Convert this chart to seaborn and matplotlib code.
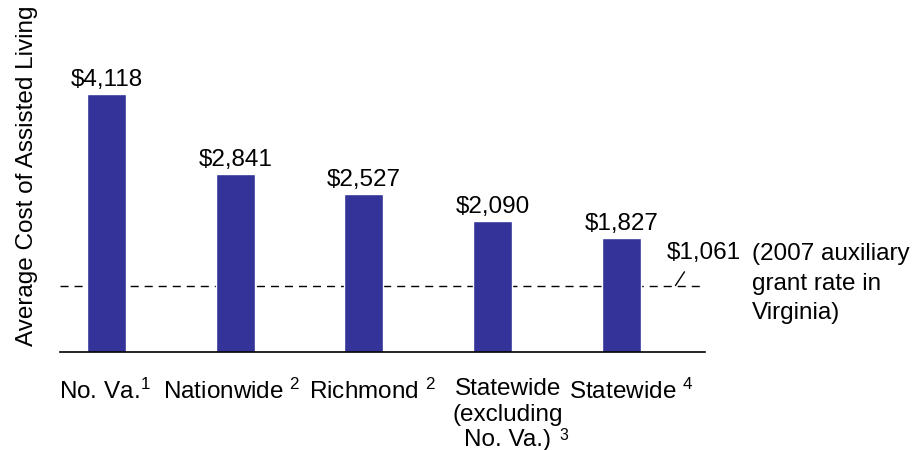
import numpy as np
import matplotlib
matplotlib.use('Agg')
import matplotlib.pyplot as plt
import matplotlib.transforms as mtransforms
import seaborn as sns

sns.set_theme(style='white')
plt.rcParams['font.family'] = ['Liberation Sans', 'DejaVu Sans']
plt.rcParams['mathtext.fontset'] = 'custom'
plt.rcParams['mathtext.rm'] = 'Liberation Sans'
plt.rcParams['mathtext.default'] = 'rm'
plt.rcParams['text.color'] = 'black'
plt.rcParams['axes.labelcolor'] = 'black'
plt.rcParams['xtick.color'] = 'black'

# data
places = [r'No. Va.$^1$', r'Nationwide $^2$', r'Richmond $^2$',
          'Statewide\n(excluding\nNo. Va.)', r'Statewide $^4$']
cost = [4118, 2841, 2527, 2090, 1827]
cost_labels = ['$4,118', '$2,841', '$2,527', '$2,090', '$1,827']
grant_rate = 1061
grant_label = '$1,061'
grant_note = '(2007 auxiliary\ngrant rate in\nVirginia)'

fs = 17.5

fig = plt.figure(figsize=(9.19, 4.5), dpi=100)
ax = fig.add_axes([0.0653, 0.2178, 0.7018, 0.7822])

ax.axhline(grant_rate, color='black', lw=1, ls=(0, (5.8, 4.3)), zorder=0)
sns.barplot(x=places, y=cost, color='#333399', saturation=1, width=0.303, ax=ax, zorder=2)
ax.bar_label(ax.containers[0], labels=[s.replace('$', r'\$') for s in cost_labels],
             padding=2, fontsize=fs)

ax.set_xlim(-0.361, 4.649)
ax.set_ylim(0, 5618)
ax.set_yticks([])
ax.set_ylabel('Average Cost of Assisted Living', fontsize=fs, labelpad=16)
ax.tick_params(axis='x', length=0, pad=19, labelsize=fs)

# category labels are not quite centred under the bars in the original
shifts = [-2, -3, 8, 15, 10]
for lab, dx in zip(ax.get_xticklabels(), shifts):
    lab.set_transform(lab.get_transform() + mtransforms.ScaledTranslation(dx / 100, 0, fig.dpi_scale_trans))

# footnote mark on the three-line label
ax.annotate('3', xy=(3, 0), xycoords=ax.get_xaxis_transform(),
            xytext=(51, -60), textcoords='offset points',
            ha='center', va='center', fontsize=fs * 0.65, annotation_clip=False)

for side in ['left', 'top', 'right']:
    ax.spines[side].set_visible(False)
ax.spines['bottom'].set_color('black')
ax.spines['bottom'].set_linewidth(1.2)

# label for the grant-rate line
ax.text(4.64, 1580, grant_label.replace('$', r'\$'), ha='center', va='center', fontsize=fs, clip_on=False)
ax.annotate('', xy=(4.42, grant_rate), xytext=(4.49, 1280),
            arrowprops=dict(arrowstyle='-', color='black', lw=1, shrinkA=0, shrinkB=0),
            annotation_clip=False)
ax.text(5.013, 1740, grant_note, ha='left', va='top', fontsize=fs,
        linespacing=1.45, clip_on=False)

fig.savefig('out.png', dpi=100)
